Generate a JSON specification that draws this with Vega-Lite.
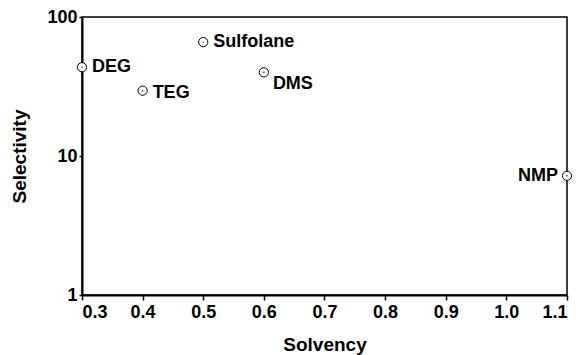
{
  "$schema": "https://vega.github.io/schema/vega-lite/v6.json",
  "autosize": "none",
  "padding": {"left": 82, "top": 17, "right": 17, "bottom": 60},
  "width": 485,
  "height": 278,
  "config": {
    "view": {"stroke": "black", "strokeWidth": 1.5},
    "font": "Liberation Sans",
    "axis": {
      "domainColor": "black", "domainWidth": 2, "tickColor": "black", "tickWidth": 1.5,
      "labelColor": "black", "titleColor": "black", "grid": false,
      "labelFont": "Liberation Sans", "titleFont": "Liberation Sans",
      "labelFontSize": 18, "labelFontWeight": "bold", "titleFontSize": 19, "titleFontWeight": "bold"
    }
  },
  "data": {"values": [
    {"solvent": "DEG", "solvency": 0.3, "selectivity": 43.5},
    {"solvent": "TEG", "solvency": 0.4, "selectivity": 29.5},
    {"solvent": "Sulfolane", "solvency": 0.5, "selectivity": 66},
    {"solvent": "DMS", "solvency": 0.6, "selectivity": 40},
    {"solvent": "NMP", "solvency": 1.1, "selectivity": 7.2}
  ]},
  "encoding": {
    "x": {"field": "solvency", "type": "quantitative", "title": "Solvency",
      "scale": {"domain": [0.3, 1.1], "nice": false, "zero": false},
      "axis": {"values": [0.3, 0.4, 0.5, 0.6, 0.7, 0.8, 0.9, 1.0, 1.1], "format": ".1f", "tickSize": 5, "labelPadding": 3, "titlePadding": 14}},
    "y": {"field": "selectivity", "type": "quantitative", "title": "Selectivity",
      "scale": {"type": "log", "domain": [1, 100], "nice": false},
      "axis": {"values": [1, 10, 100], "format": "d", "tickSize": 3, "labelPadding": 2, "titlePadding": 17}}
  },
  "layer": [
    {"mark": {"type": "point", "shape": "circle", "filled": true, "fill": "white", "stroke": "black", "strokeWidth": 1, "size": 85, "opacity": 1}},
    {"mark": {"type": "point", "shape": "circle", "filled": true, "color": "black", "size": 2, "opacity": 1}},
    {"transform": [{"filter": "datum.solvent == 'DEG' || datum.solvent == 'Sulfolane'"}],
      "mark": {"type": "text", "align": "left", "dx": 10, "dy": 0, "fontSize": 18, "fontWeight": "bold", "color": "black"},
      "encoding": {"text": {"field": "solvent"}}},
    {"transform": [{"filter": "datum.solvent == 'TEG'"}],
      "mark": {"type": "text", "align": "left", "dx": 10, "dy": 2, "fontSize": 18, "fontWeight": "bold", "color": "black"},
      "encoding": {"text": {"field": "solvent"}}},
    {"transform": [{"filter": "datum.solvent == 'DMS'"}],
      "mark": {"type": "text", "align": "left", "dx": 9, "dy": 12, "fontSize": 18, "fontWeight": "bold", "color": "black"},
      "encoding": {"text": {"field": "solvent"}}},
    {"transform": [{"filter": "datum.solvent == 'NMP'"}],
      "mark": {"type": "text", "align": "right", "dx": -9, "dy": 0, "fontSize": 18, "fontWeight": "bold", "color": "black"},
      "encoding": {"text": {"field": "solvent"}}}
  ]
}
